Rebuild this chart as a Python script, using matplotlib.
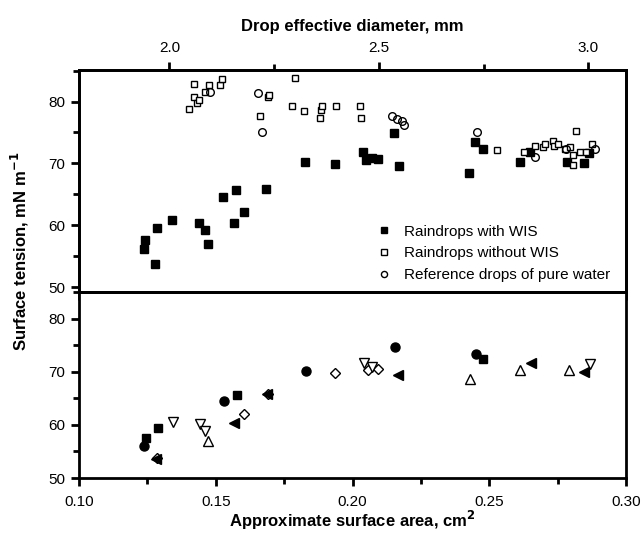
import numpy as np
import matplotlib
matplotlib.use("Agg")
import matplotlib.pyplot as plt
from matplotlib.ticker import MultipleLocator, FormatStrFormatter

plt.rcParams["font.family"] = ["Liberation Sans", "DejaVu Sans"]

# ── Upper panel: area (cm2) vs surface tension (mN/m) ─────────────────────────
wis_x = [0.1236, 0.1243, 0.1278, 0.1285, 0.1340, 0.1439, 0.1460, 0.1471, 0.1527,
         0.1567, 0.1575, 0.1602, 0.1683, 0.1828, 0.1936, 0.2039, 0.2051, 0.2071,
         0.2093, 0.2152, 0.2171, 0.2426, 0.2448, 0.2476, 0.2612, 0.2650, 0.2785,
         0.2848, 0.2866]
wis_y = [56.2, 57.6, 53.8, 59.6, 60.8, 60.4, 59.2, 57.0, 64.6,
         60.4, 65.7, 62.1, 65.9, 70.2, 69.9, 71.9, 70.6, 70.9,
         70.7, 74.9, 69.5, 68.5, 73.5, 72.3, 70.2, 71.9, 70.3,
         70.1, 71.6]

nowis_x = [0.1403, 0.1421, 0.1421, 0.1431, 0.1439, 0.1461, 0.1476, 0.1515, 0.1524,
           0.1660, 0.1690, 0.1694, 0.1788, 0.1779, 0.1822, 0.1880, 0.1883, 0.1890,
           0.1940, 0.2029, 0.2031, 0.2527, 0.2627, 0.2668, 0.2696, 0.2705, 0.2733,
           0.2736, 0.2751, 0.2778, 0.2797, 0.2808, 0.2818, 0.2806, 0.2830, 0.2854,
           0.2875]
nowis_y = [78.8, 82.8, 80.8, 79.7, 80.2, 81.6, 82.6, 82.7, 83.7,
           77.6, 80.7, 81.1, 83.8, 79.3, 78.4, 77.3, 78.6, 79.2,
           79.2, 79.2, 77.3, 72.2, 71.9, 72.8, 72.6, 73.2, 73.6,
           72.8, 73.1, 72.4, 72.6, 71.4, 75.2, 69.7, 71.9, 71.9,
           73.2]

ref_x = [0.1478, 0.1653, 0.1670, 0.2144, 0.2162, 0.2181, 0.2187, 0.2454, 0.2668,
         0.2781, 0.2885]
ref_y = [81.6, 81.4, 75.0, 77.7, 77.2, 76.8, 76.2, 75.0, 71.0,
         72.3, 72.3]

# ── Lower panel: individual events ────────────────────────────────────────────
circ_x = [0.1239, 0.1531, 0.1830, 0.2154, 0.2450]
circ_y = [56.1, 64.5, 70.1, 74.7, 73.3]
sq_x = [0.1245, 0.1288, 0.1578, 0.2478]
sq_y = [57.5, 59.5, 65.6, 72.3]
ltri_x = [0.1282, 0.1567, 0.1686, 0.2168, 0.2654, 0.2846]
ltri_y = [53.6, 60.3, 65.8, 69.4, 71.7, 70.0]
dia_x = [0.1284, 0.1603, 0.1692, 0.1937, 0.2057, 0.2094]
dia_y = [53.7, 62.0, 65.8, 69.8, 70.4, 70.6]
dtri_x = [0.1342, 0.1442, 0.1460, 0.2041, 0.2071, 0.2869]
dtri_y = [60.6, 60.2, 58.9, 71.6, 70.8, 71.4]
utri_x = [0.1472, 0.2429, 0.2614, 0.2790]
utri_y = [56.9, 68.6, 70.3, 70.3]

AREA_LIM = (0.10, 0.30)
D_LIM = (np.sqrt(AREA_LIM[0] / np.pi) * 10, np.sqrt(AREA_LIM[1] / np.pi) * 10)

W, H = 644, 533
fig = plt.figure(figsize=(W / 100, H / 100), dpi=100)
L, R = 79, 626
ax1 = fig.add_axes([L / W, (H - 292) / H, (R - L) / W, (292 - 70) / H])
ax2 = fig.add_axes([L / W, (H - 478) / H, (R - L) / W, (478 - 292) / H])

LW = 2.0
FS = 11
for ax in (ax1, ax2):
    for s in ax.spines.values():
        s.set_linewidth(LW)
    ax.set_xlim(*AREA_LIM)
    ax.yaxis.set_major_locator(MultipleLocator(10))
    ax.yaxis.set_minor_locator(MultipleLocator(5))
    ax.tick_params(which="major", direction="out", length=6, width=LW,
                   labelsize=FS, pad=4, right=False)
    ax.tick_params(which="minor", direction="out", length=4, width=LW, right=False)

kw = dict(ls="none", mec="black", mew=1.0, clip_on=False)

# upper
ax1.plot(wis_x, wis_y, "s", ms=5.5, mfc="black", label="Raindrops with WIS", **kw)
ax1.plot(nowis_x, nowis_y, "s", ms=4.6, mfc="white", label="Raindrops without WIS", **kw)
ax1.plot(ref_x, ref_y, "o", ms=5.5, mfc="none", label="Reference drops of pure water", **kw)
ax1.set_ylim(49.2, 85.1)
ax1.tick_params(axis="x", which="both", bottom=False, labelbottom=False)
ax1.legend(loc="lower left", bbox_to_anchor=(375 / W, 1 - 282 / H),
           bbox_transform=fig.transFigure, frameon=False, fontsize=FS,
           markerscale=0.8, handletextpad=0.7, labelspacing=0.5, handlelength=1.2,
           borderpad=0, borderaxespad=0)

top = ax1.twiny()
top.set_xlim(*D_LIM)
top.xaxis.set_major_locator(MultipleLocator(0.5))
top.xaxis.set_minor_locator(MultipleLocator(0.25))
top.xaxis.set_major_formatter(FormatStrFormatter("%.1f"))
top.tick_params(which="major", direction="out", length=6, width=LW, labelsize=FS, pad=5)
top.tick_params(which="minor", direction="out", length=4, width=LW)
top.set_xlabel("Drop effective diameter, mm", fontsize=12, fontweight="bold", labelpad=7)
for s in top.spines.values():
    s.set_linewidth(LW)

# lower
ax2.plot(circ_x, circ_y, "o", ms=6.5, mfc="black", **kw)
ax2.plot(sq_x, sq_y, "s", ms=5.5, mfc="black", **kw)
ax2.plot(dia_x, dia_y, "D", ms=5.5, mfc="white", **kw)
ax2.plot(dtri_x, dtri_y, "v", ms=7.5, mfc="white", **kw)
ax2.plot(utri_x, utri_y, "^", ms=7.5, mfc="white", **kw)
ax2.plot(ltri_x, ltri_y, "<", ms=7.5, mfc="black", **kw)
ax2.set_ylim(50, 85)
ax2.xaxis.set_major_locator(MultipleLocator(0.05))
ax2.xaxis.set_minor_locator(MultipleLocator(0.025))
ax2.xaxis.set_major_formatter(FormatStrFormatter("%.2f"))
ax2.tick_params(axis="x", which="both", top=False)
ax2.tick_params(axis="x", which="major", pad=6)
ax2.set_xlabel("Approximate surface area, cm$^{\\mathbf{2}}$", fontsize=12,
               fontweight="bold", labelpad=0)

fig.text(20 / W, 1 - 251 / H, "Surface tension, mN m$^{\\mathbf{-1}}$", rotation=90,
         ha="center", va="center", fontsize=12, fontweight="bold")

fig.savefig("out.png", dpi=100)
